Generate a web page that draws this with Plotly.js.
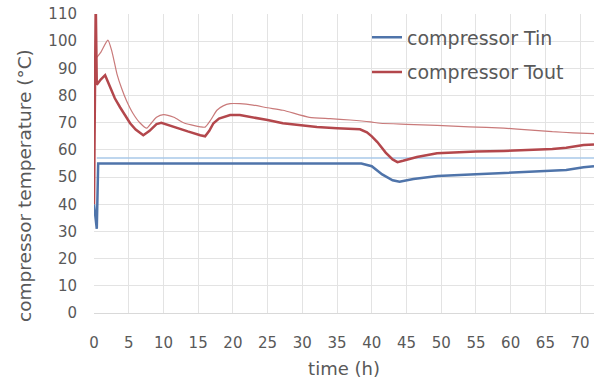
<!DOCTYPE html>
<html>
<head>
<meta charset="utf-8">
<script src="https://cdn.plot.ly/plotly-3.0.1.min.js"></script>
<style>html,body{margin:0;padding:0;background:#fff;}#chart{width:597px;height:385px;}</style>
</head>
<body>
<div id="chart"></div>
<script>
// compressor inlet temperature (legend series)
var timeTin = [0, 0.2, 0.4, 0.6, 5, 10, 20, 30, 38.5, 40, 41.5, 43, 44, 46, 49.5, 55, 59, 63, 66, 68, 70.5, 72];
var tin     = [40, 36, 31, 55, 55, 55, 55, 55, 55, 54, 51, 48.8, 48.3, 49.3, 50.4, 51, 51.5, 52, 52.3, 52.6, 53.6, 54];

// compressor outlet temperature (legend series)
var timeTout = [0, 0.25, 0.4, 0.7, 1.0, 1.6, 2.3, 3, 3.75, 4.5, 5.2, 6, 7.1, 8, 9, 9.7, 11, 12, 13.5, 15.3, 16, 16.6, 17.2, 18, 19.6, 21, 22.9, 25, 27.2, 30, 32.1, 35, 38.3, 39.3, 40, 40.8, 42, 43, 43.7, 44.5, 46.5, 49.4, 52, 55, 59, 63, 66, 68, 70.5, 72];
var tout     = [40, 115, 84, 85, 86, 87.5, 83, 79, 75.7, 72.5, 69.8, 67.5, 65.4, 67, 69.5, 70, 69, 68, 66.8, 65.4, 65, 67, 69.8, 71.5, 72.8, 72.8, 72, 71, 69.8, 69, 68.4, 68, 67.6, 66.5, 65, 62.9, 59, 56.5, 55.5, 56, 57.4, 58.8, 59.2, 59.4, 59.6, 60, 60.3, 60.8, 61.8, 62];

// thin unlabeled companion curves
var timeUpper = [0.4, 1.0, 2.0, 2.6, 3.3, 4.0, 4.7, 5.6, 6.6, 7.6, 8.3, 9, 10, 11.5, 12.9, 14, 15.3, 16, 16.8, 17.7, 18.6, 19.6, 21, 22.9, 25, 27.2, 31, 34, 36.9, 39.8, 41.2, 45, 49.4, 54, 59, 63, 66, 69, 72];
var upper     = [94, 96, 100.4, 96, 88, 82.5, 78, 73.5, 70, 68, 70, 72, 73, 72, 70, 69.2, 68.5, 68.4, 71, 74.6, 76.2, 77, 77, 76.5, 75.5, 74.6, 72, 71.5, 71, 70.3, 69.8, 69.4, 69, 68.5, 68, 67.3, 66.7, 66.3, 66];
var timeLower = [0.4, 10, 20, 30, 40, 50, 60, 72];
var lower     = [57, 57, 57, 57, 57, 57, 57, 57];

var xTicks = [0, 5, 10, 15, 20, 25, 30, 35, 40, 45, 50, 55, 60, 65, 70];
var yTicks = [0, 10, 20, 30, 40, 50, 60, 70, 80, 90, 100, 110];

var FONT = 'DejaVu Sans, sans-serif';

var traces = [
  {x: timeLower, y: lower, mode: 'lines', showlegend: false, hoverinfo: 'skip',
   line: {color: '#a9c9e8', width: 1.5}},
  {x: timeUpper, y: upper, mode: 'lines', showlegend: false, hoverinfo: 'skip',
   line: {color: '#c97a7a', width: 1.2, shape: 'spline', smoothing: 0.6}},
  {x: timeTin, y: tin, mode: 'lines', name: 'compressor Tin', legendgroup: 'a',
   line: {color: '#4f74aa', width: 2.5}},
  {x: timeTout, y: tout, mode: 'lines', name: 'compressor Tout', legendgroup: 'b',
   line: {color: '#b3474c', width: 2.5}}
];

var layout = {
  width: 597, height: 385,
  margin: {l: 94, r: 3, t: 14, b: 72},
  paper_bgcolor: '#ffffff', plot_bgcolor: '#ffffff',
  font: {family: FONT, color: '#595959', size: 15},
  showlegend: true,
  legend: {x: 0.546, y: 0.985, xanchor: 'left', yanchor: 'top',
           bgcolor: 'rgba(255,255,255,0)', font: {size: 19, color: '#595959'},
           traceorder: 'grouped', tracegroupgap: 7},
  xaxis: {range: [0, 72], tickvals: xTicks, ticktext: xTicks.map(String),
          showgrid: true, gridcolor: '#e3e3e3', gridwidth: 1,
          zeroline: false, showline: true, linecolor: '#d9d9d9', linewidth: 1,
          ticks: '', ticklabelstandoff: 16, tickfont: {size: 15},
          title: {text: 'time (h)', font: {size: 18, color: '#595959'}, standoff: 11}},
  yaxis: {range: [0, 110], tickvals: yTicks, ticktext: yTicks.map(String),
          showgrid: true, gridcolor: '#e3e3e3', gridwidth: 1,
          zeroline: false, showline: false,
          ticks: '', ticklabelstandoff: 16, tickfont: {size: 15}},
  annotations: [{
    text: 'compressor temperature (°C)', textangle: -90, showarrow: false,
    xref: 'paper', yref: 'paper', x: -0.138, y: 0.425, xanchor: 'center', yanchor: 'middle',
    font: {size: 18.5, color: '#595959', family: FONT}
  }]
};

Plotly.newPlot('chart', traces, layout, {displayModeBar: false, staticPlot: true});
</script>
</body>
</html>
